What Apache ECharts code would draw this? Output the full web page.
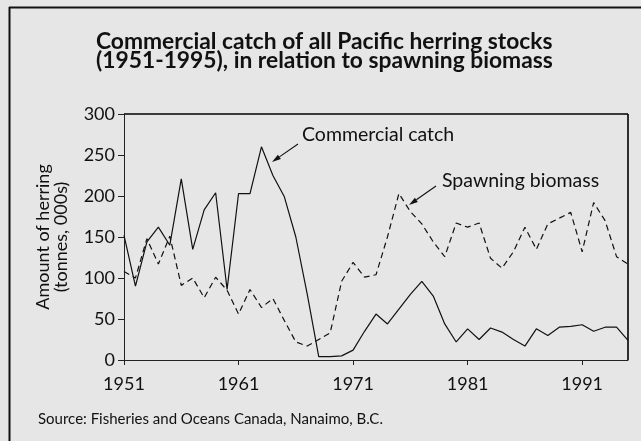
<!DOCTYPE html>
<html>
<head>
<meta charset="utf-8">
<title>Pacific herring catch and spawning biomass</title>
<script src="https://cdn.jsdelivr.net/npm/echarts@6/dist/echarts.min.js"></script>
<style>
  html, body { margin: 0; padding: 0; background: #e6e6e6; }
  #main { width: 641px; height: 441px; }
</style>
</head>
<body>
<div id="main"></div>
<script>
// values, tonnes (000s)
const years = [1951, 1952, 1953, 1954, 1955, 1956, 1957, 1958, 1959, 1960,
  1961, 1962, 1963, 1964, 1965, 1966, 1967, 1968, 1969, 1970,
  1971, 1972, 1973, 1974, 1975, 1976, 1977, 1978, 1979, 1980,
  1981, 1982, 1983, 1984, 1985, 1986, 1987, 1988, 1989, 1990,
  1991, 1992, 1993, 1994, 1995]
const commercialCatch = [152, 90, 144, 162, 140, 221, 135, 183, 204, 86,
  203, 203, 260, 225, 199, 150, 80, 4, 4, 5,
  12, 35, 56, 44, 62, 80, 96, 78, 44, 22,
  38, 25, 39, 34, 25, 17, 38, 30, 40, 41,
  43, 35, 40, 40, 24]
const spawningBiomass = [108, 100, 148, 117, 151, 91, 100, 76, 101, 85,
  56, 86, 64, 75, 48, 22, 17, 25, 33, 96,
  119, 101, 104, 150, 203, 181, 166, 144, 126, 167,
  162, 167, 124, 112, 132, 162, 135, 166, 173, 180,
  132, 192, 170, 126, 117]
const yMin = 0
const yMax = 300
const yStep = 50

const FONT = 'Lato, "Open Sans", sans-serif'
const INK = '#111'
const AXIS = '#222'

// plot area, px
const PLOT = { left: 124, top: 114, right: 628, bottom: 360 }

const chart = echarts.init(document.getElementById('main'))

// arrow = line plus a small filled head at the end point
function arrow(x1, y1, x2, y2) {
  const dx = x2 - x1
  const dy = y2 - y1
  const len = Math.sqrt(dx * dx + dy * dy)
  const ux = dx / len
  const uy = dy / len
  const hl = 9
  const hw = 2.6
  const bx = x2 - ux * hl
  const by = y2 - uy * hl
  return [
    { type: 'line', shape: { x1: x1, y1: y1, x2: bx, y2: by }, style: { stroke: INK, lineWidth: 1.1 } },
    {
      type: 'polygon',
      shape: { points: [[x2, y2], [bx - uy * hw, by + ux * hw], [bx + uy * hw, by - ux * hw]] },
      style: { fill: INK }
    }
  ]
}

const option = {
  backgroundColor: '#e6e6e6',
  animation: false,
  title: {
    text: 'Commercial catch of all Pacific herring stocks\n(1951-1995), in relation to spawning biomass',
    left: 91,
    top: 27,
    textStyle: { fontFamily: FONT, fontSize: 22.8, fontWeight: 'bold', color: INK, lineHeight: 19 }
  },
  grid: {
    left: PLOT.left,
    right: 641 - PLOT.right,
    top: PLOT.top,
    bottom: 441 - PLOT.bottom
  },
  xAxis: {
    type: 'category',
    data: years,
    boundaryGap: false,
    axisLine: { onZero: false, lineStyle: { color: AXIS, width: 1 } },
    axisTick: { interval: 9, length: 5, lineStyle: { color: AXIS } },
    axisLabel: { interval: 9, margin: 15, fontFamily: FONT, fontSize: 18, color: INK },
    splitLine: { show: false }
  },
  yAxis: {
    type: 'value',
    min: yMin,
    max: yMax,
    interval: yStep,
    name: 'Amount of herring\n(tonnes, 000s)',
    nameLocation: 'middle',
    nameGap: 54,
    nameTextStyle: { fontFamily: FONT, fontSize: 18, color: INK, lineHeight: 18 },
    axisLine: { show: true, onZero: false, lineStyle: { color: AXIS, width: 1 } },
    axisTick: { show: true, length: 6, lineStyle: { color: AXIS } },
    axisLabel: { margin: 9, fontFamily: FONT, fontSize: 18, color: INK },
    splitLine: { show: false }
  },
  series: [
    {
      name: 'Commercial catch',
      type: 'line',
      data: commercialCatch,
      symbol: 'none',
      lineStyle: { color: INK, width: 1.2, type: 'solid' }
    },
    {
      name: 'Spawning biomass',
      type: 'line',
      data: spawningBiomass,
      symbol: 'none',
      lineStyle: { color: INK, width: 1.2, type: [6, 4] }
    }
  ],
  graphic: [
    // outer frame, only top and left edges show in the crop
    { type: 'line', shape: { x1: 9, y1: 7.5, x2: 641, y2: 7.5 }, style: { stroke: INK, lineWidth: 2 } },
    { type: 'line', shape: { x1: 9.5, y1: 7, x2: 9.5, y2: 441 }, style: { stroke: INK, lineWidth: 2 } },
    // top and right edges of the plot box
    { type: 'line', shape: { x1: PLOT.left, y1: PLOT.top, x2: PLOT.right, y2: PLOT.top }, style: { stroke: '#000', lineWidth: 1.6 } },
    { type: 'line', shape: { x1: PLOT.right, y1: PLOT.top, x2: PLOT.right, y2: PLOT.bottom }, style: { stroke: '#000', lineWidth: 1.6 } },
    {
      type: 'text', left: 302, top: 125,
      style: { text: 'Commercial catch', fontFamily: FONT, fontSize: 19.5, fill: INK }
    },
    {
      type: 'text', left: 442, top: 171,
      style: { text: 'Spawning biomass', fontFamily: FONT, fontSize: 19.5, fill: INK }
    },
    ...arrow(298, 144, 272, 162),
    ...arrow(436, 186, 409, 205),
    {
      type: 'text', left: 38, top: 412,
      style: { text: 'Source: Fisheries and Oceans Canada, Nanaimo, B.C.', fontFamily: FONT, fontSize: 15, fill: INK }
    }
  ]
}

chart.setOption(option)
</script>
</body>
</html>
